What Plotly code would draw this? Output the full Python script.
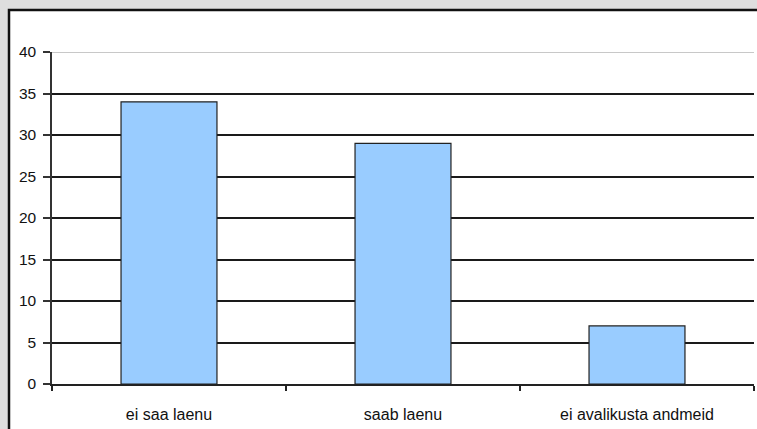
import plotly.graph_objects as go

categories = ["ei saa laenu", "saab laenu", "ei avalikusta andmeid"]
values = [34, 29, 7]
y_ticks = [0, 5, 10, 15, 20, 25, 30, 35, 40]

fig = go.Figure()
fig.add_trace(go.Bar(
    x=categories, y=values, width=0.41,
    marker=dict(color="#99CCFF", line=dict(color="#222222", width=1.2)),
    hoverinfo="skip",
))

L, R, T, B = 52, 3, 52, 45
W, H = 757, 429
pw = W - L - R
ph = H - T - B

def px2x(px):
    return (px - L) / pw

def py2y(py):
    return (H - B - py) / ph

fig.update_layout(
    width=W, height=H,
    margin=dict(l=L, r=R, t=T, b=B, autoexpand=False),
    paper_bgcolor="#dedede",
    plot_bgcolor="rgba(0,0,0,0)",
    showlegend=False,
    font=dict(family="Liberation Sans, Arial, sans-serif", size=15, color="#111111"),
    xaxis=dict(
        showline=True, linecolor="#222222", linewidth=1.5,
        ticks="outside", ticklen=5, tickcolor="#222222", tickwidth=1.5,
        tickson="boundaries", showgrid=False,
        tickfont=dict(size=16),
        ticklabelstandoff=15, fixedrange=True,
    ),
    yaxis=dict(
        range=[0, 40], tickvals=y_ticks,
        showline=True, linecolor="#333333", linewidth=1.5,
        ticks="outside", ticklen=7, tickcolor="#333333", tickwidth=1.5,
        showgrid=True, gridcolor="#1a1a1a", gridwidth=1.5,
        tickfont=dict(size=15.5),
        zeroline=False, ticklabelstandoff=4, fixedrange=True,
    ),
    shapes=[
        dict(type="rect", xref="paper", yref="paper",
             x0=px2x(9), x1=px2x(780), y0=py2y(450), y1=py2y(10),
             fillcolor="white", line=dict(color="#111111", width=2.5),
             layer="below"),
        dict(type="line", xref="paper", yref="y",
             x0=0, x1=1, y0=40, y1=40,
             line=dict(color="#c8c8c8", width=2), layer="above"),
    ],
)

fig.write_html(
    "out.html",
    config={"displayModeBar": False},
    post_script="document.body.style.margin='0';document.body.style.overflow='hidden';",
)
